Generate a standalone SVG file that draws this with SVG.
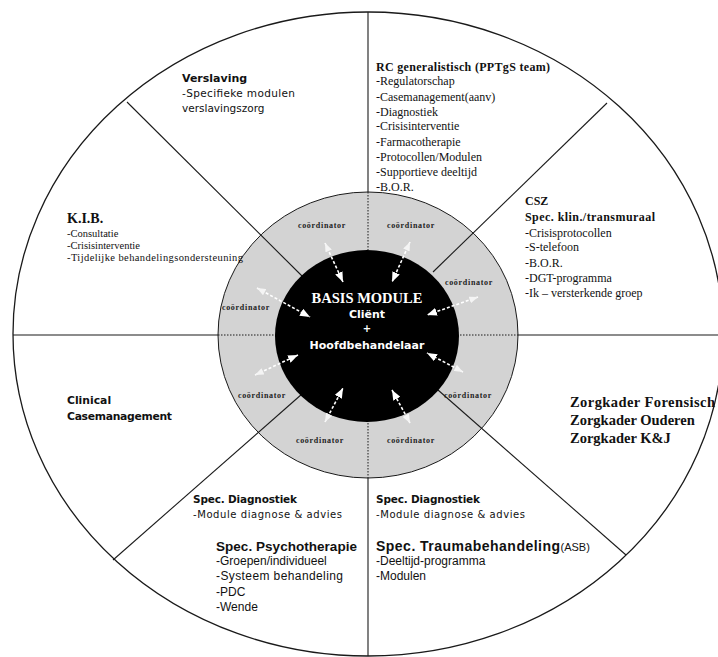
<svg xmlns="http://www.w3.org/2000/svg" width="718" height="657" viewBox="0 0 718 657">
<defs>
<style>
.ln{stroke:#1a1a1a;stroke-width:1.1;fill:none}
.dot{stroke:#1a1a1a;stroke-width:1;stroke-dasharray:1.5 1.5;fill:none}
.arr{stroke:#fff;stroke-width:1.6;stroke-dasharray:3 2;fill:none;marker-start:url(#hOut);marker-end:url(#hIn)}
.sr{font-family:"Liberation Serif","Times New Roman",serif;fill:#111}
.ss{font-family:"DejaVu Sans",Verdana,sans-serif;fill:#111}
.sa{font-family:"Liberation Sans",Arial,sans-serif;fill:#111}
.b{font-weight:bold}
.co{font-family:"Liberation Serif","Times New Roman",serif;font-weight:bold;font-size:8px;letter-spacing:0.7px;fill:#222;text-anchor:middle}
.w{fill:#fff;text-anchor:middle}
</style>
<marker id="hIn" viewBox="0 0 10 8" refX="10" refY="4" markerWidth="10" markerHeight="8" markerUnits="userSpaceOnUse" orient="auto">
<path d="M0,0 L10,4 L0,8 Z" fill="#fff"/>
</marker>
<marker id="hOut" viewBox="0 0 10 8" refX="10" refY="4" markerWidth="9" markerHeight="7" markerUnits="userSpaceOnUse" orient="auto-start-reverse">
<path d="M0,0 L10,4 L0,8 Z" fill="#f4f4f4"/>
</marker>
</defs>
<rect width="718" height="657" fill="#fff"/>
<g id="wheel">
<ellipse cx="368" cy="334" rx="355" ry="322" fill="#fff" stroke="#1a1a1a" stroke-width="1.3"/>
</g>
<g id="connectors">
<line class="ln" x1="368" y1="12" x2="368" y2="656"/>
<line class="ln" x1="13" y1="335" x2="718" y2="335"/>
<ellipse cx="368" cy="335" rx="150" ry="143" fill="#d3d3d3" stroke="#1a1a1a" stroke-width="1"/>
<line class="dot" x1="368" y1="192" x2="368" y2="252"/>
<line class="dot" x1="368" y1="420" x2="368" y2="478"/>
<line class="dot" x1="218" y1="335" x2="277" y2="335"/>
<line class="dot" x1="457" y1="335" x2="518" y2="335"/>
<line class="ln" x1="127" y1="102" x2="302" y2="276"/>
<line class="ln" x1="607" y1="103" x2="433" y2="272"/>
<line class="ln" x1="113" y1="560" x2="302" y2="394"/>
<line class="ln" x1="626" y1="555" x2="438" y2="390"/>
</g>
<g id="basis-module">
<ellipse cx="367" cy="336" rx="92" ry="86" fill="#000"/>
<text class="sr b w" x="367" y="303" font-size="14.5">BASIS MODULE</text>
<text class="ss b w" x="367" y="318" font-size="11">Cliënt</text>
<text class="ss b w" x="367" y="332" font-size="10">+</text>
<text class="ss b w" x="367" y="349" font-size="11">Hoofdbehandelaar</text>
</g>
<g id="coordinators">
<text class="co" x="322" y="228">coördinator</text>
<text class="co" x="411" y="228">coördinator</text>
<text class="co" x="469" y="285">coördinator</text>
<text class="co" x="246" y="310">coördinator</text>
<text class="co" x="262" y="398">coördinator</text>
<text class="co" x="468" y="398">coördinator</text>
<text class="co" x="320" y="443">coördinator</text>
<text class="co" x="411" y="443">coördinator</text>
</g>
<g id="arrows">
<line class="arr" x1="325" y1="243" x2="343" y2="282"/>
<line class="arr" x1="410" y1="242" x2="392" y2="282"/>
<line class="arr" x1="478" y1="297" x2="427" y2="315"/>
<line class="arr" x1="257" y1="288" x2="310" y2="317"/>
<line class="arr" x1="255" y1="375" x2="298" y2="355"/>
<line class="arr" x1="463" y1="372" x2="427" y2="353"/>
<line class="arr" x1="325" y1="422" x2="343" y2="388"/>
<line class="arr" x1="410" y1="423" x2="392" y2="390"/>
</g>
<g id="rc-generalistisch" class="sr" font-size="12">
<text class="b" x="376" y="71" textLength="174">RC generalistisch (PPTgS team)</text>
<text x="376" y="85">-Regulatorschap</text>
<text x="376" y="101">-Casemanagement(aanv)</text>
<text x="376" y="116">-Diagnostiek</text>
<text x="376" y="130">-Crisisinterventie</text>
<text x="376" y="146">-Farmacotherapie</text>
<text x="376" y="161">-Protocollen/Modulen</text>
<text x="376" y="176">-Supportieve deeltijd</text>
<text x="376" y="191">-B.O.R.</text>
</g>
<g id="csz" class="sr" font-size="12">
<text class="b" x="525" y="205">CSZ</text>
<text class="b" x="525" y="221" textLength="130">Spec. klin./transmuraal</text>
<text x="525" y="237">-Crisisprotocollen</text>
<text x="525" y="251">-S-telefoon</text>
<text x="525" y="267">-B.O.R.</text>
<text x="525" y="282">-DGT-programma</text>
<text x="525" y="297">-Ik – versterkende groep</text>
</g>
<g id="verslaving" class="ss" font-size="10.5">
<text class="b" x="182" y="82" font-size="11">Verslaving</text>
<text x="182" y="97" textLength="113">-Specifieke modulen</text>
<text x="182" y="112">verslavingszorg</text>
</g>
<g id="kib" class="sr">
<text class="b" x="67" y="223" font-size="14">K.I.B.</text>
<text x="67" y="237" font-size="10.5">-Consultatie</text>
<text x="67" y="249" font-size="10.5">-Crisisinterventie</text>
<text x="67" y="261" font-size="10.5" textLength="176">-Tijdelijke behandelingsondersteuning</text>
</g>
<g id="clinical-casemanagement" class="ss b" font-size="10.8">
<text x="67" y="404">Clinical</text>
<text x="67" y="420" textLength="105">Casemanagement</text>
</g>
<g id="zorgkader" class="sr b" font-size="14.5">
<text x="570" y="407" textLength="145">Zorgkader Forensisch</text>
<text x="570" y="425">Zorgkader Ouderen</text>
<text x="570" y="443">Zorgkader K&amp;J</text>
</g>
<g id="spec-psychotherapie">
<text class="ss b" x="193" y="503" font-size="10.5" textLength="104">Spec. Diagnostiek</text>
<text class="ss" x="193" y="518" font-size="10" textLength="149">-Module diagnose &amp; advies</text>
<text class="sa b" x="216" y="551" font-size="13.5" textLength="141">Spec. Psychotherapie</text>
<text class="sa" x="216" y="565" font-size="12">-Groepen/individueel</text>
<text class="sa" x="216" y="580" font-size="12" textLength="127">-Systeem behandeling</text>
<text class="sa" x="216" y="596" font-size="12">-PDC</text>
<text class="sa" x="216" y="611" font-size="12">-Wende</text>
</g>
<g id="spec-traumabehandeling">
<text class="ss b" x="376" y="503" font-size="10.5" textLength="104">Spec. Diagnostiek</text>
<text class="ss" x="376" y="518" font-size="10" textLength="149">-Module diagnose &amp; advies</text>
<text class="sa" x="376" y="551" font-size="14"><tspan class="b" textLength="184">Spec. Traumabehandeling</tspan><tspan font-size="11">(ASB)</tspan></text>
<text class="sa" x="376" y="565" font-size="12">-Deeltijd-programma</text>
<text class="sa" x="376" y="580" font-size="12">-Modulen</text>
</g>
</svg>
